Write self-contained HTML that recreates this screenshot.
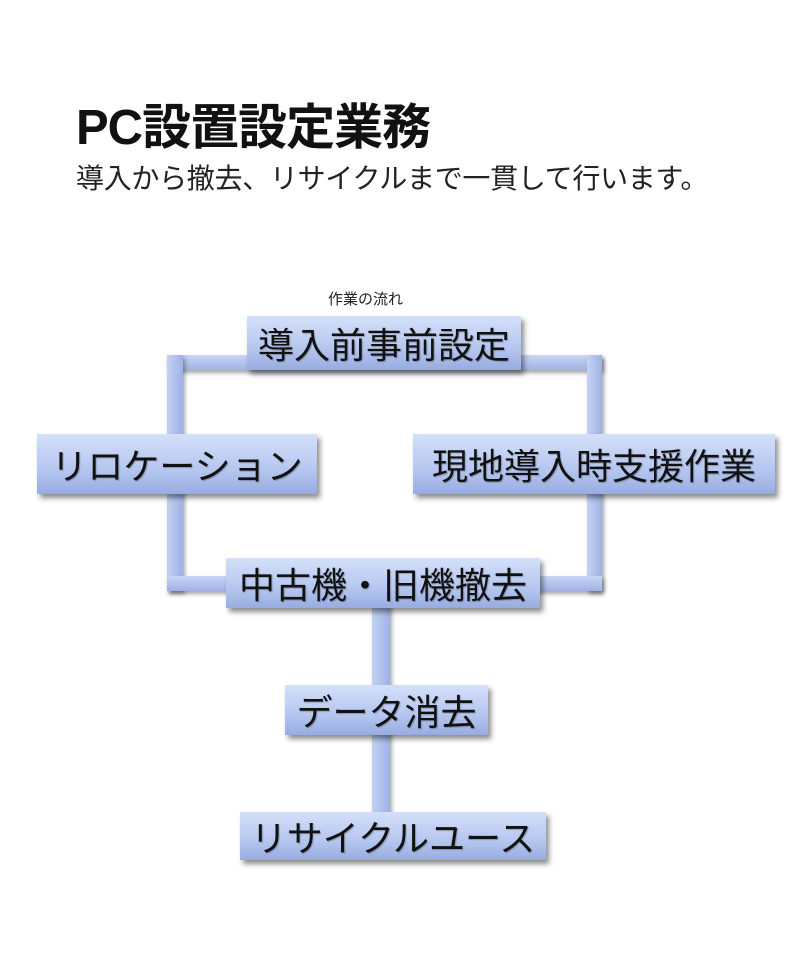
<!DOCTYPE html>
<html><head><meta charset="utf-8"><style>
body{margin:0;width:800px;height:960px;background:#fff;position:relative;overflow:hidden;font-family:"Liberation Sans","Noto Sans CJK JP",sans-serif;}
.t{position:absolute;left:76px;top:88px;font-size:49px;font-weight:bold;color:#111;letter-spacing:-1px}
.s{position:absolute;left:76px;top:157px;font-size:28px;color:#222;letter-spacing:-0.3px}
.c{position:absolute;left:328px;top:288px;font-size:15px;color:#222}
.b{position:absolute;box-sizing:border-box;background:linear-gradient(#d4e0fa,#b5c6ef 60%,#98ace0);box-shadow:3px 4px 5px rgba(0,0,0,.45);display:flex;align-items:center;justify-content:center;font-size:36px;color:#111;white-space:nowrap;text-shadow:1px 1px 1px rgba(0,0,0,.25)}
.l{position:absolute;background:linear-gradient(90deg,#c4d2f4,#9eb2e4);box-shadow:2px 3px 4px rgba(0,0,0,.35)}
</style></head><body>
<div class="t">PC設置設定業務</div>
<div class="s">導入から撤去、リサイクルまで一貫して行います。</div>
<div class="c">作業の流れ</div>
<div class="l" style="left:167px;top:355px;width:435px;height:15px;background:linear-gradient(#c8d5f5,#a0b3e4)"></div>
<div class="l" style="left:167px;top:355px;width:16px;height:236px"></div>
<div class="l" style="left:587px;top:355px;width:15px;height:236px"></div>
<div class="l" style="left:167px;top:576px;width:435px;height:15px;background:linear-gradient(#c8d5f5,#a0b3e4)"></div>
<div class="l" style="left:372px;top:600px;width:18px;height:215px"></div>
<div class="b" style="left:247px;top:316px;width:274px;height:54px">導入前事前設定</div>
<div class="b" style="left:37px;top:434px;width:280px;height:60px">リロケーション</div>
<div class="b" style="left:413px;top:434px;width:362px;height:60px">現地導入時支援作業</div>
<div class="b" style="left:226px;top:558px;width:314px;height:50px">中古機・旧機撤去</div>
<div class="b" style="left:285px;top:685px;width:203px;height:50px">データ消去</div>
<div class="b" style="left:240px;top:812px;width:306px;height:48px">リサイクルユース</div>
</body></html>
